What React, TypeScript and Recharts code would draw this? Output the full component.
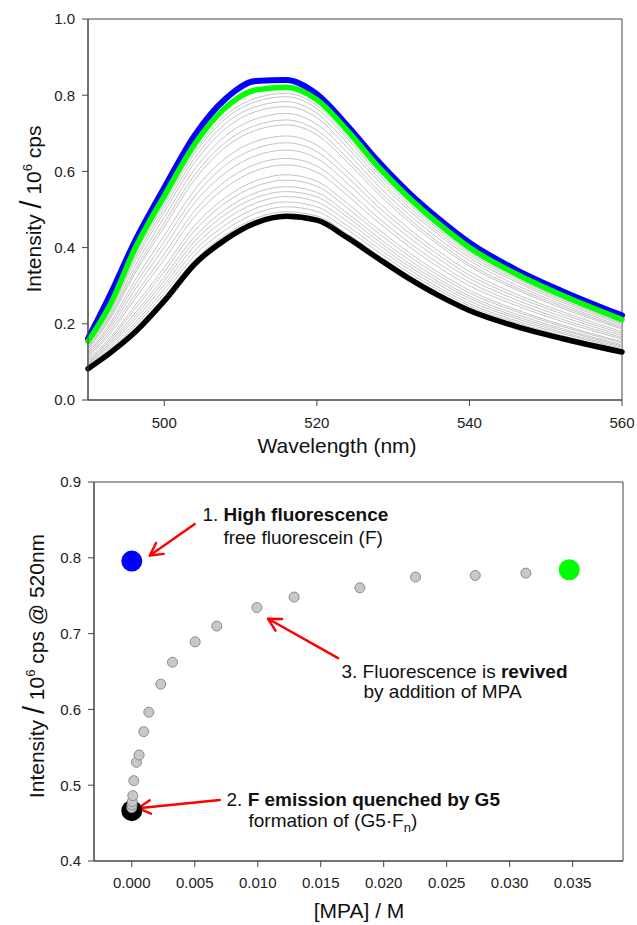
import {
  LineChart,
  Line,
  XAxis,
  YAxis,
  ReferenceArea,
  ReferenceLine,
  ReferenceDot,
  ScatterChart,
  Scatter,
} from 'recharts';

// ---- top panel: emission spectra ----
const WAVELENGTH = [490, 493, 496, 500, 504, 508, 512, 516, 520, 524, 528, 532, 536, 540, 546, 552, 560];

// free fluorescein (blue)
const FREE_F = [0.161, 0.28, 0.41, 0.557, 0.695, 0.79, 0.837, 0.84, 0.803, 0.72, 0.627, 0.545, 0.475, 0.413, 0.343, 0.287, 0.222];
// quenched by G5 (black)
const G5_F = [0.082, 0.125, 0.175, 0.26, 0.357, 0.421, 0.465, 0.482, 0.472, 0.426, 0.372, 0.32, 0.274, 0.235, 0.194, 0.162, 0.126];
// after last MPA addition (green)
const REVIVED = [0.154, 0.254, 0.391, 0.536, 0.672, 0.767, 0.814, 0.821, 0.788, 0.707, 0.613, 0.532, 0.462, 0.4, 0.332, 0.276, 0.211];

// intermediate titration spectra (grey)
const TITRATION = [
  [0.15, 0.247, 0.38, 0.521, 0.655, 0.747, 0.792, 0.805, 0.773, 0.692, 0.6, 0.521, 0.452, 0.391, 0.325, 0.27, 0.206],
  [0.148, 0.244, 0.374, 0.514, 0.647, 0.738, 0.783, 0.796, 0.765, 0.685, 0.594, 0.515, 0.447, 0.387, 0.321, 0.267, 0.204],
  [0.146, 0.239, 0.366, 0.504, 0.635, 0.725, 0.77, 0.783, 0.753, 0.674, 0.585, 0.507, 0.44, 0.381, 0.316, 0.263, 0.201],
  [0.143, 0.234, 0.358, 0.493, 0.623, 0.712, 0.757, 0.77, 0.741, 0.663, 0.576, 0.499, 0.433, 0.374, 0.311, 0.258, 0.198],
  [0.139, 0.227, 0.346, 0.479, 0.606, 0.693, 0.738, 0.752, 0.724, 0.649, 0.563, 0.488, 0.423, 0.366, 0.303, 0.252, 0.193],
  [0.135, 0.221, 0.335, 0.465, 0.591, 0.676, 0.721, 0.735, 0.708, 0.635, 0.551, 0.477, 0.413, 0.357, 0.296, 0.247, 0.189],
  [0.133, 0.216, 0.327, 0.454, 0.579, 0.663, 0.708, 0.722, 0.696, 0.624, 0.542, 0.469, 0.406, 0.351, 0.291, 0.242, 0.186],
  [0.127, 0.205, 0.309, 0.431, 0.552, 0.634, 0.679, 0.693, 0.669, 0.6, 0.521, 0.451, 0.39, 0.337, 0.279, 0.233, 0.179],
  [0.123, 0.198, 0.297, 0.416, 0.535, 0.616, 0.66, 0.675, 0.652, 0.585, 0.508, 0.44, 0.38, 0.328, 0.272, 0.227, 0.174],
  [0.119, 0.191, 0.285, 0.401, 0.518, 0.596, 0.641, 0.656, 0.634, 0.569, 0.495, 0.428, 0.37, 0.319, 0.264, 0.22, 0.169],
  [0.114, 0.183, 0.271, 0.383, 0.497, 0.574, 0.619, 0.634, 0.614, 0.551, 0.479, 0.415, 0.358, 0.309, 0.256, 0.213, 0.164],
  [0.111, 0.176, 0.261, 0.369, 0.482, 0.557, 0.602, 0.617, 0.598, 0.537, 0.467, 0.404, 0.348, 0.3, 0.249, 0.207, 0.16],
  [0.105, 0.166, 0.244, 0.348, 0.458, 0.531, 0.575, 0.591, 0.574, 0.516, 0.449, 0.388, 0.334, 0.288, 0.238, 0.198, 0.153],
  [0.102, 0.161, 0.235, 0.337, 0.445, 0.517, 0.561, 0.577, 0.561, 0.504, 0.439, 0.379, 0.326, 0.281, 0.233, 0.194, 0.15],
  [0.098, 0.155, 0.224, 0.323, 0.429, 0.5, 0.544, 0.56, 0.545, 0.49, 0.427, 0.369, 0.317, 0.273, 0.226, 0.188, 0.145],
  [0.096, 0.15, 0.216, 0.313, 0.417, 0.487, 0.531, 0.547, 0.533, 0.48, 0.418, 0.36, 0.31, 0.267, 0.22, 0.184, 0.142],
  [0.093, 0.145, 0.208, 0.302, 0.405, 0.473, 0.517, 0.534, 0.52, 0.469, 0.409, 0.352, 0.303, 0.26, 0.215, 0.179, 0.139],
  [0.09, 0.139, 0.199, 0.291, 0.392, 0.459, 0.503, 0.52, 0.507, 0.457, 0.399, 0.344, 0.295, 0.253, 0.209, 0.175, 0.135],
  [0.087, 0.134, 0.191, 0.28, 0.38, 0.446, 0.49, 0.507, 0.495, 0.447, 0.39, 0.335, 0.288, 0.247, 0.204, 0.17, 0.132],
  [0.085, 0.13, 0.183, 0.27, 0.368, 0.433, 0.477, 0.494, 0.483, 0.436, 0.38, 0.327, 0.281, 0.241, 0.199, 0.166, 0.129],
];

const WL_TICKS = [500, 520, 540, 560];
const INT_TICKS = [0, 0.2, 0.4, 0.6, 0.8, 1.0];

// ---- bottom panel: intensity at 520 nm vs [MPA] ----
const MPA_CONC = [0, 0.00002, 0.00004, 0.00008, 0.00016, 0.00037, 0.00058, 0.00095, 0.00135, 0.0023, 0.00323, 0.00503, 0.00675, 0.00993, 0.01289, 0.01811, 0.02253, 0.02727, 0.03129];
const INT_520 = [0.4704, 0.4739, 0.4783, 0.4862, 0.506, 0.5302, 0.5399, 0.5707, 0.5963, 0.6333, 0.6623, 0.6891, 0.7099, 0.7344, 0.7482, 0.7604, 0.7746, 0.7767, 0.7798];
const FREE_POINT = [{ x: 0, y: 0.7957 }];
const QUENCHED_POINT = [{ x: 0, y: 0.4664 }];
const REVIVED_POINT = [{ x: 0.03473, y: 0.7842 }];

const MPA_TICKS = [0, 0.005, 0.01, 0.015, 0.02, 0.025, 0.03, 0.035];
const I520_TICKS = [0.4, 0.5, 0.6, 0.7, 0.8, 0.9];

const FONT = '"Liberation Sans", Arial, sans-serif';
const AXIS = '#454545';
const tickStyle = { fill: '#222', fontSize: 15, fontFamily: FONT };

const spectraRows = WAVELENGTH.map((wl, i) => {
  const row: Record<string, number> = { wl, free: FREE_F[i], quenched: G5_F[i], revived: REVIVED[i] };
  TITRATION.forEach((s, k) => {
    row[`t${k}`] = s[i];
  });
  return row;
});

const titrationPoints = MPA_CONC.map((x, i) => ({ x, y: INT_520[i] }));

const Arrow = (p: any) => {
  const { x1, y1, x2, y2 } = p;
  const ang = Math.atan2(y2 - y1, x2 - x1);
  const len = 14;
  const spread = 0.5;
  const ax = x2 - len * Math.cos(ang - spread);
  const ay = y2 - len * Math.sin(ang - spread);
  const bx = x2 - len * Math.cos(ang + spread);
  const by = y2 - len * Math.sin(ang + spread);
  return (
    <g stroke="#ff0000" strokeWidth={2.4} fill="none" strokeLinecap="round" strokeLinejoin="round">
      <line x1={x1} y1={y1} x2={x2} y2={y2} />
      <polyline points={`${ax},${ay} ${x2},${y2} ${bx},${by}`} />
    </g>
  );
};

const note = (lines: (cx: number, cy: number) => any) => (p: any) => (
  <text fontSize={19} fontFamily={FONT} fill="#111">{lines(p.cx, p.cy)}</text>
);

const Note1 = note((cx, cy) => [
  <tspan key="a" x={cx} y={cy}>1. </tspan>,
  <tspan key="b" fontWeight="bold">High fluorescence</tspan>,
  <tspan key="c" x={cx + 21} y={cy + 23}>free fluorescein (F)</tspan>,
]);

const Note2 = note((cx, cy) => [
  <tspan key="a" x={cx} y={cy}>2. </tspan>,
  <tspan key="b" fontWeight="bold">F emission quenched by G5</tspan>,
  <tspan key="c" x={cx + 22} y={cy + 21}>formation of (G5·F</tspan>,
  <tspan key="d" fontSize={13} dy={5}>n</tspan>,
  <tspan key="e" dy={-5}>)</tspan>,
]);

const Note3 = note((cx, cy) => [
  <tspan key="a" x={cx} y={cy}>3. Fluorescence is </tspan>,
  <tspan key="b" fontWeight="bold">revived</tspan>,
  <tspan key="c" x={cx + 22} y={cy + 20}>by addition of MPA</tspan>,
]);

const SpectraChart = () => (
  <LineChart width={637} height={460} data={spectraRows} margin={{ top: 19, right: 15, bottom: 30, left: 28 }}>
    <XAxis
      type="number"
      dataKey="wl"
      domain={[490, 560]}
      ticks={WL_TICKS}
      height={30}
      tickSize={6}
      tickMargin={11}
      stroke={AXIS}
      tick={tickStyle}
      label={{
        content: () => (
          <text x={337} y={453} textAnchor="middle" fontSize={21} fontFamily={FONT} fill="#111">
            Wavelength (nm)
          </text>
        ),
      }}
    />
    <YAxis
      type="number"
      domain={[0, 1]}
      ticks={INT_TICKS}
      tickFormatter={(v) => v.toFixed(1)}
      width={60}
      tickSize={6}
      tickMargin={7}
      stroke={AXIS}
      tick={tickStyle}
      label={{
        content: () => (
          <text transform="rotate(-90, 41, 209)" x={41} y={209} textAnchor="middle" fontSize={21} fontFamily={FONT} fill="#111">
            Intensity <tspan fontSize={29}>/</tspan> 10<tspan fontSize={13} dy={-9}>6</tspan>
            <tspan dy={9}> cps</tspan>
          </text>
        ),
      }}
    />
    <ReferenceArea x1={490} x2={560} y1={0} y2={1} fill="none" stroke={AXIS} strokeWidth={1} />
    <Line dataKey="free" type="monotone" stroke="#0000ff" strokeWidth={6} strokeLinecap="round" dot={false} activeDot={false} isAnimationActive={false} />
    {TITRATION.map((_, k) => (
      <Line key={k} dataKey={`t${k}`} type="monotone" stroke="#c4c4c4" strokeWidth={1} dot={false} activeDot={false} isAnimationActive={false} />
    ))}
    <Line dataKey="quenched" type="monotone" stroke="#000000" strokeWidth={5.5} strokeLinecap="round" dot={false} activeDot={false} isAnimationActive={false} />
    <Line dataKey="revived" type="monotone" stroke="#00ff00" strokeWidth={5.5} strokeLinecap="round" dot={false} activeDot={false} isAnimationActive={false} />
  </LineChart>
);

const TitrationChart = () => (
  <ScatterChart width={637} height={465} margin={{ top: 22, right: 14, bottom: 34, left: 34 }}>
    <XAxis
      type="number"
      dataKey="x"
      domain={[-0.003, 0.039]}
      ticks={MPA_TICKS}
      tickFormatter={(v) => v.toFixed(3)}
      height={30}
      tickSize={6}
      tickMargin={10}
      stroke={AXIS}
      tick={tickStyle}
      allowDataOverflow
      label={{
        content: () => (
          <text x={359} y={458} textAnchor="middle" fontSize={21} fontFamily={FONT} fill="#111">
            [MPA] / M
          </text>
        ),
      }}
    />
    <YAxis
      type="number"
      dataKey="y"
      domain={[0.4, 0.9]}
      ticks={I520_TICKS}
      tickFormatter={(v) => v.toFixed(1)}
      width={60}
      tickSize={6}
      tickMargin={7}
      stroke={AXIS}
      tick={tickStyle}
      allowDataOverflow
      label={{
        content: () => (
          <text transform="rotate(-90, 44, 206)" x={44} y={206} textAnchor="middle" fontSize={21} fontFamily={FONT} fill="#111">
            Intensity <tspan fontSize={29}>/</tspan> 10<tspan fontSize={13} dy={-9}>6</tspan>
            <tspan dy={9}> cps @ 520nm</tspan>
          </text>
        ),
      }}
    />
    <ReferenceArea x1={-0.003} x2={0.039} y1={0.4} y2={0.9} fill="none" stroke={AXIS} strokeWidth={1} />
    <Scatter
      data={QUENCHED_POINT}
      isAnimationActive={false}
      shape={(p: any) => <circle cx={p.cx} cy={p.cy} r={10.5} fill="#000" />}
    />
    <Scatter
      data={titrationPoints}
      isAnimationActive={false}
      shape={(p: any) => <circle cx={p.cx} cy={p.cy} r={5} fill="#c8c8c8" stroke="#8c8c8c" strokeWidth={1} />}
    />
    <Scatter
      data={FREE_POINT}
      isAnimationActive={false}
      shape={(p: any) => <circle cx={p.cx} cy={p.cy} r={10.5} fill="#0000ff" />}
    />
    <Scatter
      data={REVIVED_POINT}
      isAnimationActive={false}
      shape={(p: any) => <circle cx={p.cx} cy={p.cy} r={10.5} fill="#00ff00" />}
    />
    <ReferenceLine segment={[{ x: 0.005, y: 0.8445 }, { x: 0.00143, y: 0.8031 }]} shape={Arrow} />
    <ReferenceLine segment={[{ x: 0.00699, y: 0.4805 }, { x: 0.0005, y: 0.4696 }]} shape={Arrow} />
    <ReferenceLine segment={[{ x: 0.01638, y: 0.6676 }, { x: 0.01082, y: 0.7195 }]} shape={Arrow} />
    <ReferenceDot x={0.00561} y={0.8489} r={0} shape={Note1} />
    <ReferenceDot x={0.00752} y={0.4726} r={0} shape={Note2} />
    <ReferenceDot x={0.01665} y={0.642} r={0} shape={Note3} />
  </ScatterChart>
);

export default function App() {
  return (
    <div style={{ position: 'absolute', left: 0, top: 0, width: 637, height: 925, background: '#fff', fontFamily: FONT }}>
      <div style={{ position: 'absolute', left: 0, top: 0 }}>
        <SpectraChart />
      </div>
      <div style={{ position: 'absolute', left: 0, top: 460 }}>
        <TitrationChart />
      </div>
    </div>
  );
}
